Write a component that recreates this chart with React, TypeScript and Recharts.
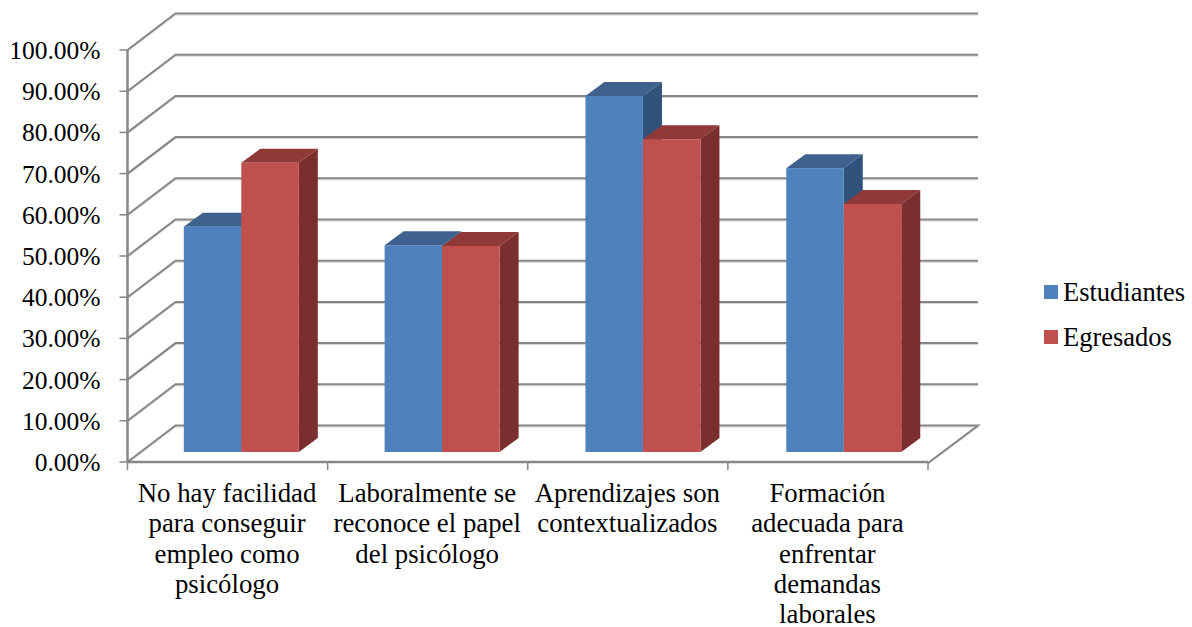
import React from "react";
import { BarChart, Bar, XAxis, YAxis, CartesianGrid, Legend } from "recharts";

const categories = [
  "No hay facilidad\npara conseguir\nempleo como\npsicólogo",
  "Laboralmente se\nreconoce el papel\ndel psicólogo",
  "Aprendizajes son\ncontextualizados",
  "Formación\nadecuada para\nenfrentar\ndemandas\nlaborales",
];
const seriesNames = ["Estudiantes", "Egresados"];
const estudiantes = [54.7, 50.2, 86.4, 68.9];
const egresados = [70.2, 50.0, 75.9, 60.2];
const yTicks = [0, 10, 20, 30, 40, 50, 60, 70, 80, 90, 100];

const data = categories.map((name, i) => ({ name, Estudiantes: estudiantes[i], Egresados: egresados[i] }));

const W = 1192;
const H = 627;
const LEFT = 127.5;
const BOTTOM = 165;
const M = { top: 50, right: 264, bottom: 0, left: 0 };
const PLOT_BOTTOM = H - BOTTOM;
const BAND = (W - LEFT - M.right) / categories.length;
const FONT = "'Liberation Serif', serif";
const AXIS = "#868686";
const WALL_DX = 48;
const WALL_DY = -36.5;
const BAR_DX = 13.3;
const BAR_DY = -10;
const BAR_DRIFT = 0.7;
const DEPTH_DX = 19;
const DEPTH_DY = -14;

const GridLine = (p: any) => {
  const y = p.y1;
  const isFloor = Math.abs(y - PLOT_BOTTOM) < 1;
  const d =
    `M${p.x1} ${y}L${p.x1 + WALL_DX} ${y + WALL_DY}L${p.x2 + WALL_DX + 2} ${y + WALL_DY}` +
    (isFloor ? `L${p.x2} ${y + 1}` : "");
  return (
    <g key={`grid-${y}`}>
      <path d={d} transform="translate(0,1.5)" fill="none" stroke="#d4d4d4" strokeWidth={1} />
      <path d={d} fill="none" stroke={AXIS} strokeWidth={2} />
    </g>
  );
};

const Bar3D = (p: any) => {
  const { x, y, width: w, height: h, fill, topFill, sideFill, index } = p;
  const X = x + BAR_DX + index * BAR_DRIFT;
  const Y = y + BAR_DY;
  return (
    <g>
      <polygon
        points={`${X},${Y} ${X + DEPTH_DX},${Y + DEPTH_DY} ${X + w + DEPTH_DX},${Y + DEPTH_DY} ${X + w},${Y}`}
        fill={topFill}
      />
      <polygon
        points={`${X + w},${Y} ${X + w + DEPTH_DX},${Y + DEPTH_DY} ${X + w + DEPTH_DX},${Y + h + DEPTH_DY} ${X + w},${Y + h}`}
        fill={sideFill}
      />
      <rect x={X} y={Y} width={w} height={h} fill={fill} />
    </g>
  );
};

const CategoryTick = (p: any) => {
  const { x, payload, index } = p;
  const lines = String(payload.value).split("\n");
  const top = PLOT_BOTTOM;
  return (
    <g>
      <line x1={x - BAND / 2} x2={x - BAND / 2} y1={top} y2={top + 8} stroke={AXIS} strokeWidth={1.5} />
      {index === categories.length - 1 && (
        <line x1={x + BAND / 2} x2={x + BAND / 2} y1={top} y2={top + 8} stroke={AXIS} strokeWidth={1.5} />
      )}
      <text textAnchor="middle" fontFamily={FONT} fontSize={26.8} fill="#000">
        {lines.map((l: string, i: number) => (
          <tspan key={i} x={x - 0.5} y={top + 39.8 + i * 30.4}>
            {l}
          </tspan>
        ))}
      </text>
    </g>
  );
};

const LegendBox = (p: any) => {
  const items = [...(p.payload || [])].sort(
    (a: any, b: any) => seriesNames.indexOf(a.value) - seriesNames.indexOf(b.value)
  );
  return (
    <div style={{ fontFamily: FONT, fontSize: 26.5, color: "#000" }}>
      {items.map((e: any) => (
        <div key={e.value} style={{ display: "flex", alignItems: "center", height: 45, whiteSpace: "nowrap" }}>
          <span style={{ width: 14, height: 14, background: e.color, marginRight: 5, display: "inline-block" }} />
          {e.value}
        </div>
      ))}
    </div>
  );
};

export default function App() {
  return (
    <div style={{ position: "absolute", left: 0, top: 0, width: W, height: H }}>
      <BarChart width={W} height={H} data={data} margin={M} barSize={57.5} barGap={0} barCategoryGap={42.5}>
        <CartesianGrid horizontal={GridLine as any} vertical={false} syncWithTicks />
        <XAxis
          dataKey="name"
          interval={0}
          tick={CategoryTick as any}
          tickLine={false}
          axisLine={{ stroke: AXIS, strokeWidth: 2.5 }}
          height={BOTTOM}
        />
        <YAxis
          domain={[0, 100]}
          ticks={yTicks}
          interval={0}
          width={LEFT}
          tickFormatter={(v: number) => `${v.toFixed(2)}%`}
          tick={{ fontFamily: FONT, fontSize: 25.5, fill: "#000" }}
          tickSize={8}
          tickMargin={19}
          tickLine={{ stroke: AXIS, strokeWidth: 1.5 }}
          axisLine={{ stroke: AXIS, strokeWidth: 2.5 }}
        />
        <Legend
          layout="vertical"
          align="center"
          verticalAlign="middle"
          content={LegendBox as any}
          wrapperStyle={{ left: 1044, top: 269.5, width: 148, bottom: "auto" }}
        />
        <Bar
          dataKey="Estudiantes"
          fill="#4F81BD"
          isAnimationActive={false}
          shape={(p: any) => <Bar3D {...p} topFill="#3E618E" sideFill="#31527B" />}
        />
        <Bar
          dataKey="Egresados"
          fill="#C0504D"
          isAnimationActive={false}
          shape={(p: any) => <Bar3D {...p} topFill="#8F3A38" sideFill="#7A2F2E" />}
        />
      </BarChart>
    </div>
  );
}
